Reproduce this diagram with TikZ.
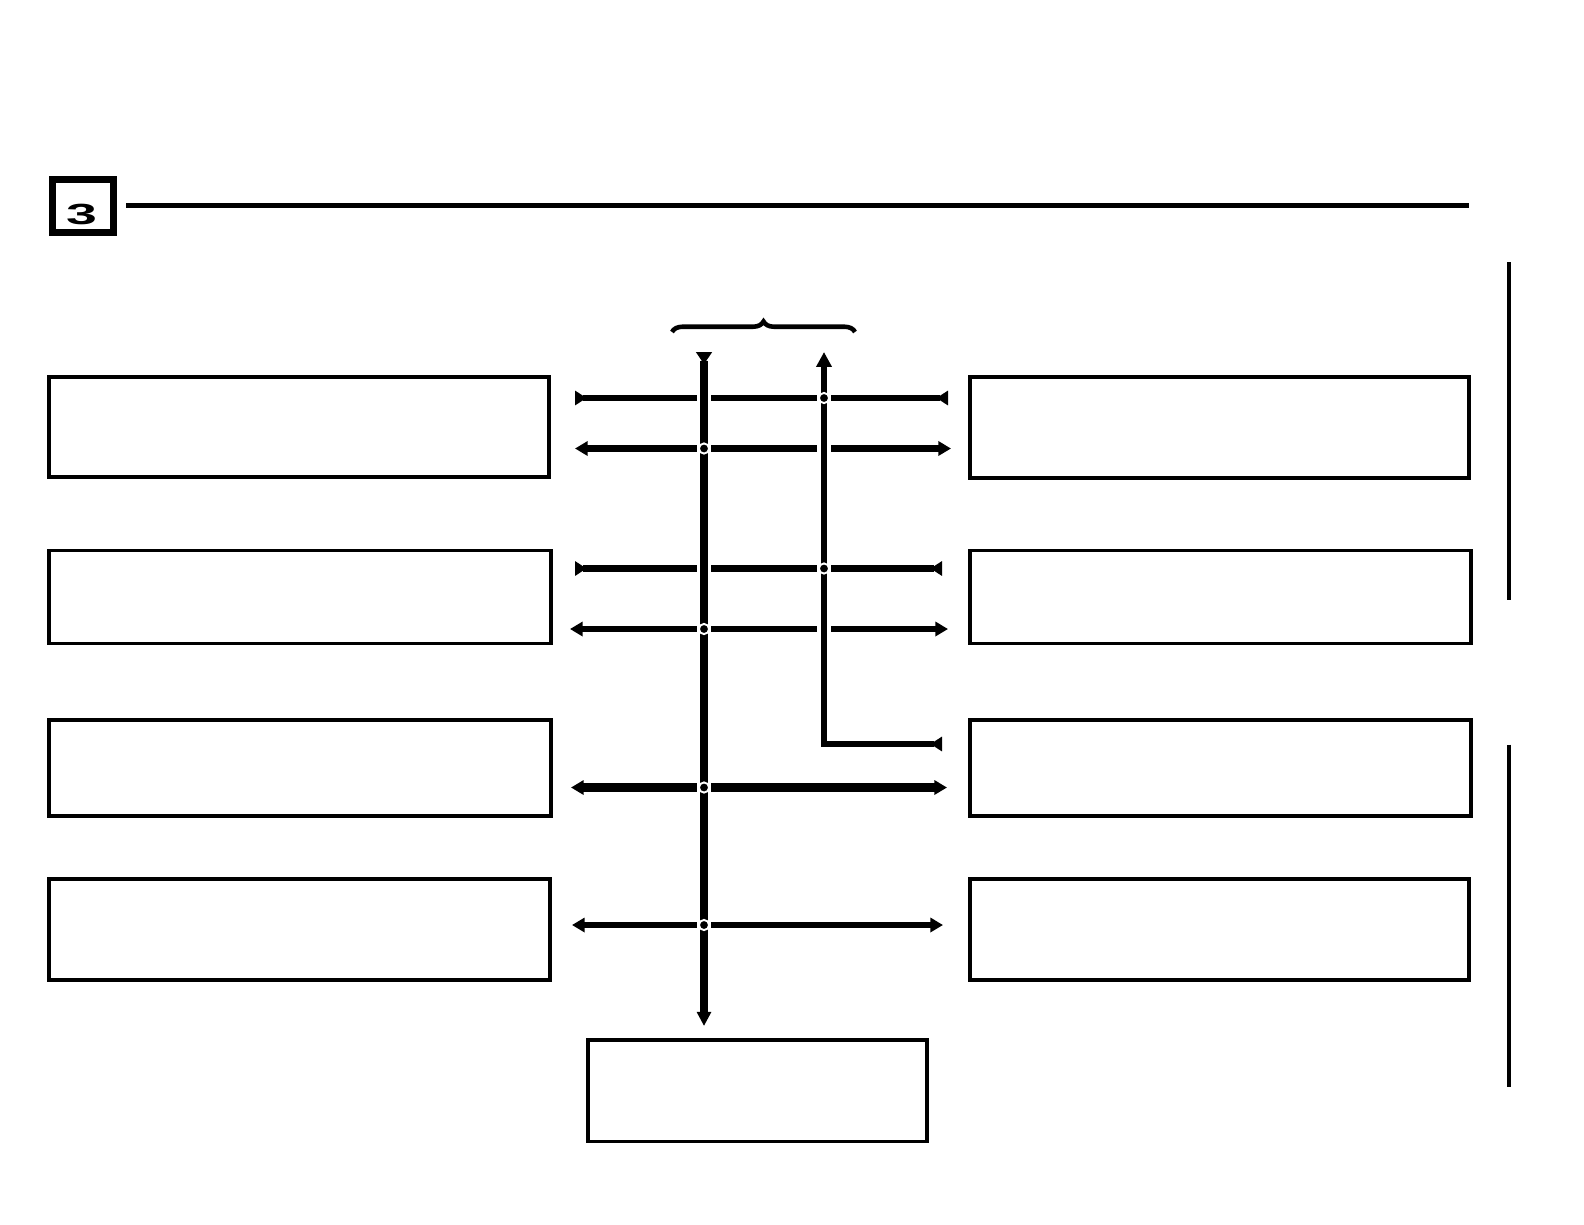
\documentclass[tikz,border=0pt]{standalone}
\usepackage{fontspec}
\setmainfont{Liberation Sans}
\usetikzlibrary{arrows.meta, decorations.pathreplacing}

\tikzset{
  blk/.style={draw, line width=2.2pt, inner sep=0pt, outer sep=0pt, anchor=north west},
  wire/.style={line width=3.9pt},
  bus/.style={line width=#1, preaction={draw=white, line width=8.5pt, arrows=-}},
  bar/.style={line width=2.8pt},
  jdot/.style={circle, fill=black, draw=white, line width=1.1pt, minimum size=5.8pt, inner sep=0pt},
  tin/.tip={Triangle[reversed, length=6.6pt, width=8pt]},
  tout/.tip={Triangle[length=7.2pt, width=8pt]},
}

\begin{document}
\begin{tikzpicture}[x=0.02cm, y=-0.02cm]
    \useasboundingbox (0, 0) rectangle (1584, 1224);

    % heading
    \node[draw, line width=4pt, inner sep=0pt, minimum width=1.22cm, minimum height=1.06cm] (secbox) at (83, 206) {};
    \node (secnum) at (81.5, 214.5) {\scalebox{1.9}[1]{\fontsize{16.6}{18}\selectfont\bfseries 3}};
    \coordinate (hl) at (126, 205.5);
    \coordinate (hr) at (1469, 205.5);
    \draw[line width=2.8pt] (hl) -- (hr);

    % left boxes
    \node[blk, minimum width=10cm, minimum height=2cm] (l1) at (49, 377) {};
    \node[blk, minimum width=10.05cm, minimum height=1.86cm] (l2) at (49, 550.5) {};
    \node[blk, minimum width=10.05cm, minimum height=1.92cm] (l3) at (49, 720) {};
    \node[blk, minimum width=10.03cm, minimum height=2.02cm] (l4) at (49, 879) {};

    % right boxes
    \node[blk, minimum width=9.98cm, minimum height=2.02cm] (r1) at (970, 377) {};
    \node[blk, minimum width=10.02cm, minimum height=1.86cm] (r2) at (970, 550.5) {};
    \node[blk, minimum width=10.02cm, minimum height=1.92cm] (r3) at (970, 720) {};
    \node[blk, minimum width=9.98cm, minimum height=2.02cm] (r4) at (970, 879) {};

    % bottom box
    \node[blk, minimum width=6.78cm, minimum height=2.03cm] (sink) at (588, 1040) {};

    % side bars
    \coordinate (s1t) at (1509, 262);
    \coordinate (s1b) at (1509, 600);
    \coordinate (s2t) at (1509, 744.5);
    \coordinate (s2b) at (1509, 1087);
    \draw[bar] (s1t) -- (s1b);
    \draw[bar] (s2t) -- (s2b);

    % brace over the two buses
    \coordinate (brl) at (672, 332);
    \coordinate (brr) at (855, 332);
    \draw[line width=2.6pt, decorate, decoration={brace, amplitude=6pt}] (brl) -- (brr);

    % row ends
    \coordinate (aL) at (575, 398);   \coordinate (aR) at (948, 398);
    \coordinate (bL) at (575, 448.5); \coordinate (bR) at (951, 448.5);
    \coordinate (cL) at (575, 568.5); \coordinate (cR) at (942, 568.5);
    \coordinate (dL) at (570, 629);   \coordinate (dR) at (948, 629);
    \coordinate (fL) at (571, 787.5); \coordinate (fR) at (947, 787.5);
    \coordinate (gL) at (572, 925);   \coordinate (gR) at (943, 925);

    \draw[wire, tin-tin] (aL) -- (aR);
    \draw[wire, tout-tout] (bL) -- (bR);
    \draw[wire, tin-tin] (cL) -- (cR);
    \draw[wire, tout-tout] (dL) -- (dR);
    \draw[line width=4.6pt, tout-tout] (fL) -- (fR);
    \draw[line width=3.4pt, tout-tout] (gL) -- (gR);

    % buses
    \coordinate (b1t) at (704, 352);
    \coordinate (b1b) at (704, 1026);
    \coordinate (b2t) at (824, 352);
    \coordinate (b2c) at (824, 744);
    \coordinate (b2e) at (942, 744);
    \draw[bus=4.5pt, {Triangle[reversed, length=7pt, width=8.8pt]}-{Triangle[length=8pt, width=7.8pt]}] (b1t) -- (b1b);
    \draw[bus=3.2pt, {Triangle[length=8.5pt, width=8.5pt]}-tin] (b2t) -- (b2c) -- (b2e);

    % junctions
    \node[jdot] (j1) at (824, 398) {};
    \node[jdot] (j2) at (704, 448.5) {};
    \node[jdot] (j3) at (824, 568.5) {};
    \node[jdot] (j4) at (704, 629) {};
    \node[jdot] (j5) at (704, 787.5) {};
    \node[jdot] (j6) at (704, 925) {};
\end{tikzpicture}
\end{document}
